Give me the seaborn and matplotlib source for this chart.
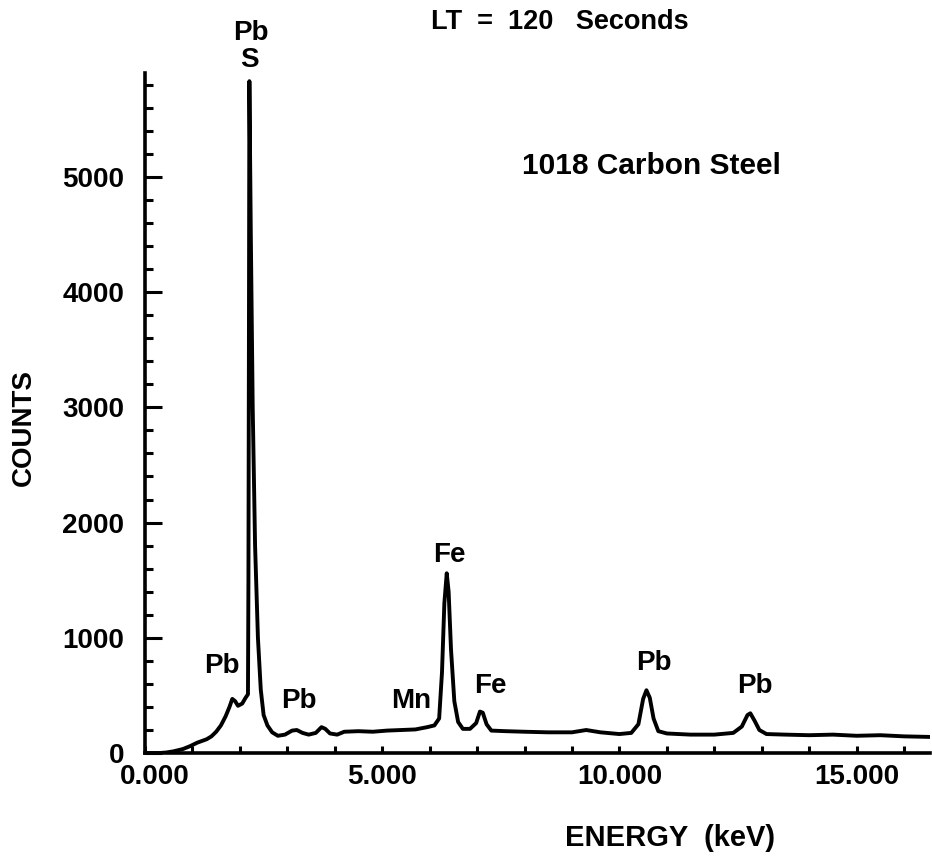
import matplotlib
matplotlib.use("Agg")
import matplotlib.pyplot as plt
import matplotlib.transforms as mtransforms
import seaborn as sns
import pandas as pd
from matplotlib.ticker import MultipleLocator, FixedLocator

# ---- data ----
energy_kev = [0.00, 0.30, 0.45, 0.60, 0.80, 0.95, 1.10, 1.30, 1.40, 1.50, 1.60,
              1.70, 1.78, 1.84, 1.90, 1.96, 2.05, 2.12, 2.17, 2.18, 2.19, 2.20,
              2.23, 2.27, 2.32, 2.38, 2.44, 2.50, 2.58, 2.68, 2.80, 2.95, 3.10,
              3.20, 3.32, 3.45, 3.60, 3.72, 3.80, 3.90, 4.05, 4.20, 4.50, 4.80,
              5.10, 5.40, 5.70, 5.95, 6.10, 6.20, 6.26, 6.31, 6.36, 6.40, 6.45,
              6.52, 6.60, 6.70, 6.85, 6.98, 7.06, 7.12, 7.20, 7.30, 7.60, 8.00,
              8.50, 9.00, 9.30, 9.60, 10.00, 10.25, 10.40, 10.50, 10.57, 10.64,
              10.72, 10.82, 11.00, 11.50, 12.00, 12.40, 12.58, 12.70, 12.76,
              12.85, 12.95, 13.10, 13.50, 14.00, 14.50, 15.00, 15.50, 16.00,
              16.55]
counts = [0, 0, 5, 15, 35, 60, 90, 120, 145, 185, 240,
          320, 400, 470, 450, 410, 430, 480, 510, 1500, 3500, 5830,
          4500, 3000, 1800, 1000, 550, 330, 240, 180, 150, 160, 195,
          200, 175, 160, 175, 225, 210, 170, 160, 185, 190, 185,
          195, 200, 205, 225, 240, 300, 700, 1300, 1560, 1400, 900,
          450, 270, 210, 210, 260, 360, 350, 250, 195, 190, 185,
          180, 180, 200, 180, 165, 175, 250, 470, 545, 480,
          300, 190, 170, 160, 160, 175, 230, 330, 345,
          280, 200, 165, 160, 155, 160, 150, 155, 145,
          140]

peak_labels = ["Pb", "Pb", "Mn", "Fe", "Fe", "Pb", "Pb"]
peak_label_e = [1.61, 3.25, 5.62, 6.41, 7.27, 10.73, 12.85]
peak_label_c = [755, 451, 451, 1719, 582, 781, 582]

x_ticks = [0, 5, 10, 15]
x_tick_labels = ["0.000", "5.000", "10.000", "15.000"]
y_ticks = [0, 1000, 2000, 3000, 4000, 5000]

df = pd.DataFrame({"energy": energy_kev, "counts": counts})

sns.set_style("ticks")
plt.rcParams["font.family"] = ["Liberation Sans", "DejaVu Sans"]
plt.rcParams["font.weight"] = "bold"
plt.rcParams["text.color"] = "black"
plt.rcParams["xtick.color"] = "black"
plt.rcParams["ytick.color"] = "black"
plt.rcParams["axes.labelcolor"] = "black"

fig = plt.figure(figsize=(9.32, 8.58), dpi=100)
ax = fig.add_axes([0.1556, 0.1223, 0.8424, 0.7925])

sns.lineplot(data=df, x="energy", y="counts", ax=ax, color="black",
             linewidth=2.8, estimator=None, sort=False)

ax.set_xlim(0, 16.55)
ax.set_ylim(0, 5900)
sns.despine(ax=ax)
for s in ("left", "bottom"):
    ax.spines[s].set_linewidth(2.6)
    ax.spines[s].set_color("black")

ax.xaxis.set_major_locator(FixedLocator(x_ticks))
ax.set_xticklabels(x_tick_labels)
ax.xaxis.set_minor_locator(MultipleLocator(1))
ax.yaxis.set_major_locator(FixedLocator(y_ticks))
ax.yaxis.set_minor_locator(MultipleLocator(200))

ax.tick_params(axis="both", which="both", direction="in", color="black", width=2.2)
ax.tick_params(axis="y", which="major", length=12, pad=15, labelsize=20,
               labelcolor="black")
ax.tick_params(axis="y", which="minor", length=6)
ax.tick_params(axis="x", which="major", length=5, pad=8, labelsize=20,
               labelcolor="black")
ax.tick_params(axis="x", which="minor", length=5)
for lab in ax.get_xticklabels() + ax.get_yticklabels():
    lab.set_fontweight("bold")
# the first energy label sits slightly right of the axis origin in the reference
first = ax.get_xticklabels()[0]
first.set_transform(first.get_transform() +
                    mtransforms.ScaledTranslation(10 / 100, 0, fig.dpi_scale_trans))

ax.set_xlabel("")
ax.set_ylabel("")

for t, e, c in zip(peak_labels, peak_label_e, peak_label_c):
    ax.text(e, c, t, ha="center", va="center", fontsize=20, fontweight="bold")

ax.text(2.24, 6250, "Pb", ha="center", va="center", fontsize=20,
        fontweight="bold", clip_on=False)
ax.text(2.20, 6015, "S", ha="center", va="center", fontsize=20,
        fontweight="bold", clip_on=False)

fig.text(24 / 932, 1 - 427 / 858, "COUNTS", rotation=90, ha="center",
         va="center", fontsize=20, fontweight="bold")
fig.text(670 / 932, 1 - 838 / 858, "ENERGY  (keV)", ha="center", va="center",
         fontsize=21, fontweight="bold")
fig.text(560 / 932, 1 - 22 / 858, "LT  =  120   Seconds", ha="center",
         va="center", fontsize=19.5, fontweight="bold")
fig.text(651 / 932, 1 - 166 / 858, "1018 Carbon Steel", ha="center",
         va="center", fontsize=21.5, fontweight="bold")

fig.savefig("out.png", dpi=100)
